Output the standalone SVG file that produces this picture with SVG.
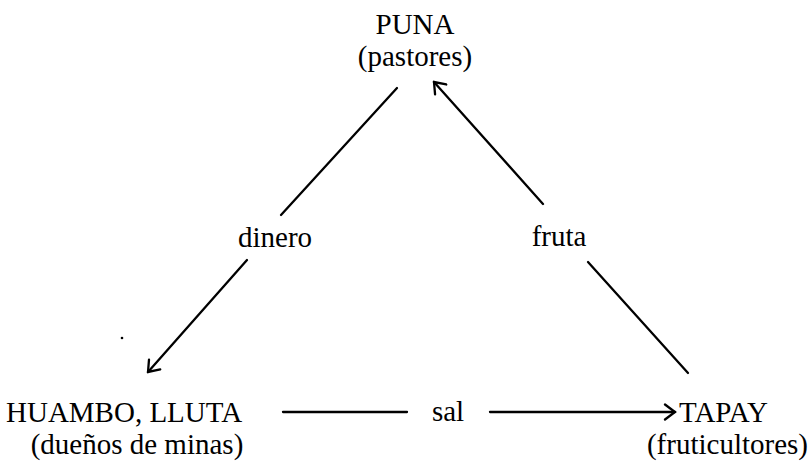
<svg xmlns="http://www.w3.org/2000/svg" width="810" height="462" viewBox="0 0 810 462" font-family="'Liberation Serif', 'Times New Roman', 'DejaVu Serif', serif">
<style>
text{font-family:"Liberation Serif","Times New Roman","DejaVu Serif",serif;font-size:29px;fill:#000}
.c{stroke:#000;stroke-width:2.3;fill:none;stroke-linecap:round}
</style>
<defs>
<marker id="ah" viewBox="-12 -9 14 18" refX="0" refY="0" markerWidth="14" markerHeight="18" markerUnits="userSpaceOnUse" orient="auto">
<path d="M-10,-7.5 L0,0 L-10,7.5" fill="none" stroke="#000" stroke-width="2.3" stroke-linecap="round" stroke-linejoin="miter"/>
</marker>
</defs>
<rect width="810" height="462" fill="#fff"/>
<g id="puna">
<text x="415" y="34" text-anchor="middle">PUNA</text>
<text x="415" y="66" text-anchor="middle">(pastores)</text>
</g>
<g id="huambo">
<text x="6" y="422">HUAMBO, LLUTA</text>
<text x="137" y="454" text-anchor="middle">(dueños de minas)</text>
</g>
<g id="tapay">
<text x="679" y="422">TAPAY</text>
<text x="808" y="454" text-anchor="end">(fruticultores)</text>
</g>
<g id="connectors">
<line class="c" x1="397" y1="88" x2="281" y2="215"/>
<line class="c" x1="247" y1="260" x2="148" y2="372" marker-end="url(#ah)"/>
<text x="275" y="247" text-anchor="middle">dinero</text>
<line class="c" x1="688" y1="373" x2="588" y2="262"/>
<line class="c" x1="543" y1="204" x2="434" y2="82" marker-end="url(#ah)"/>
<text x="559" y="246" text-anchor="middle">fruta</text>
<line class="c" x1="283" y1="412" x2="407" y2="412"/>
<line class="c" x1="490" y1="412" x2="675" y2="412" marker-end="url(#ah)"/>
<text x="448" y="421" text-anchor="middle">sal</text>
</g>
<circle cx="122" cy="338" r="1.3" fill="#000"/>
</svg>
